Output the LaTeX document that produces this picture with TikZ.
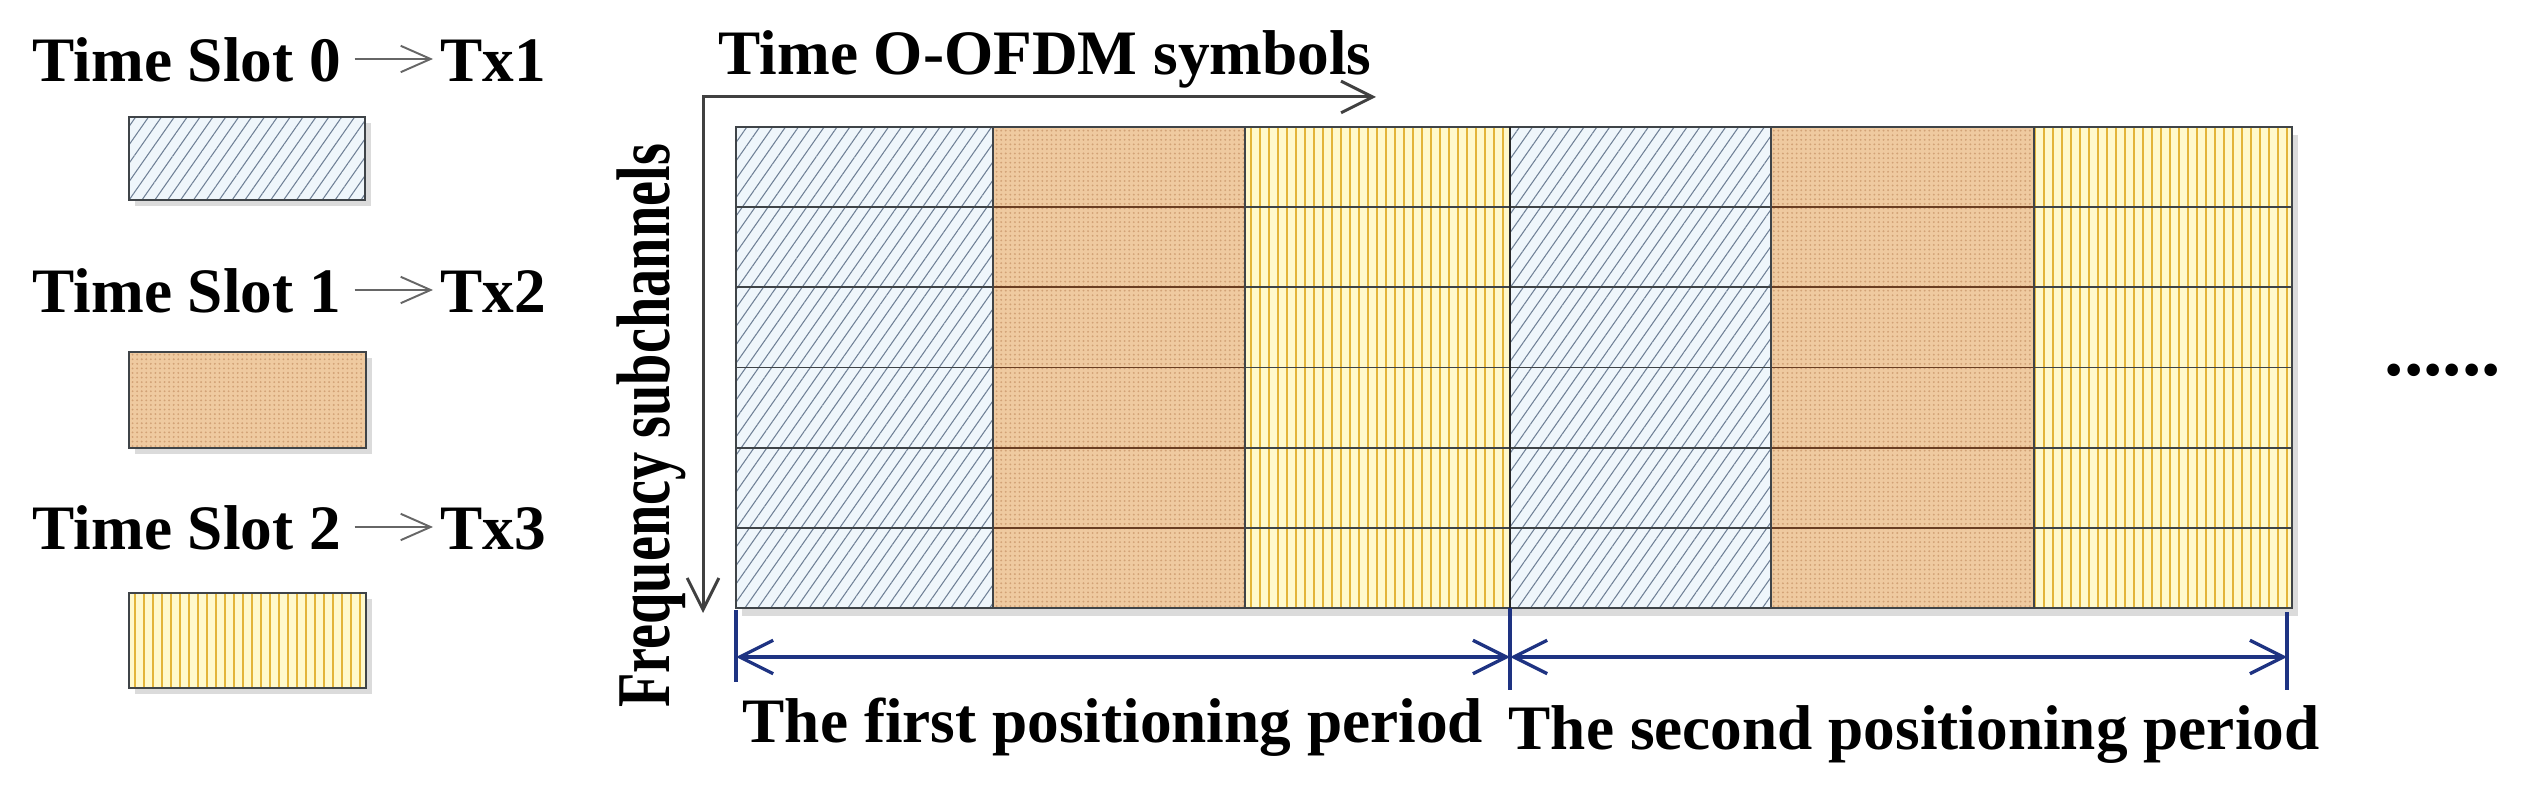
\documentclass[tikz,border=0pt]{standalone}
\usepackage{fontspec}
\setmainfont{Liberation Serif}
\usetikzlibrary{arrows.meta,patterns.meta,calc}
\definecolor{blueF}{HTML}{EFF6FB}
\definecolor{blueL}{HTML}{6F8096}
\definecolor{tanF}{HTML}{EFCAA0}
\definecolor{tanD}{HTML}{D2A276}
\definecolor{yelF}{HTML}{FFF9CC}
\definecolor{yelL}{HTML}{E3B53A}
\definecolor{navy}{HTML}{1E3382}
\definecolor{gridc}{HTML}{3F4448}
\definecolor{tanline}{HTML}{6A3E22}
\tikzset{
 lbl/.style={font=\fontsize{18}{20}\selectfont\bfseries, inner sep=0pt, anchor=base west},
 bluecell/.style={preaction={fill=blueF}, pattern={Lines[angle=55,distance=3.0pt,line width=0.3pt]}, pattern color=blueL},
 tancell/.style={preaction={fill=tanF}, pattern={Dots[radius=0.3pt,distance=1.3pt]}, pattern color=tanD},
 yelcell/.style={preaction={fill=yelF}, pattern={Lines[angle=90,distance=2.56pt,line width=0.55pt]}, pattern color=yelL},
 shadowbox/.style={fill=black!14},
 cellline/.style={draw=gridc, line width=0.55pt},
 slotarrow/.style={draw=black!60, line width=0.55pt, -{Straight Barb[length=8.5pt,width=7.5pt]}},
 axisarrow/.style={draw=black!75, line width=0.85pt, {Straight Barb[length=9pt,width=9pt]}-{Straight Barb[length=9pt,width=9pt]}},
 dimarrow/.style={draw=navy, line width=0.95pt, {Straight Barb[length=9.5pt,width=9.5pt]}-{Straight Barb[length=9.5pt,width=9.5pt]}},
 dimtick/.style={draw=navy, line width=0.95pt},
}
\begin{document}
\begin{tikzpicture}[x=0.01cm,y=-0.01cm]
\useasboundingbox (0,0) rectangle (2525,789);
% legend
\node[lbl] (ts0) at (32,82) {Time Slot 0};
\node[lbl] (tx0) at (440,82) {Tx1};
\draw[slotarrow] ($(ts0.base east)+(13,-23)$) -- ($(tx0.base west)+(-7,-23)$);
\path[shadowbox] (135,123) rectangle (371,206);
\path[bluecell,cellline] (129,117) rectangle (365,200);

\node[lbl] (ts1) at (32,313) {Time Slot 1};
\node[lbl] (tx1) at (440,313) {Tx2};
\draw[slotarrow] ($(ts1.base east)+(13,-23)$) -- ($(tx1.base west)+(-7,-23)$);
\path[shadowbox] (135,358) rectangle (372,454);
\path[tancell,cellline] (129,352) rectangle (366,448);

\node[lbl] (ts2) at (32,550) {Time Slot 2};
\node[lbl] (tx2) at (440,550) {Tx3};
\draw[slotarrow] ($(ts2.base east)+(13,-23)$) -- ($(tx2.base west)+(-7,-23)$);
\path[shadowbox] (135,599) rectangle (372,694);
\path[yelcell,cellline] (129,593) rectangle (366,688);

% grid
\path[shadowbox] (742,135) rectangle (2298,616);
\foreach \xa/\xb/\sty/\lc in {736/993/bluecell/gridc, 993/1245/tancell/tanline, 1245/1510/yelcell/gridc, 1510/1771/bluecell/gridc, 1771/2034/tancell/tanline, 2034/2292/yelcell/gridc} {
  \path[\sty] (\xa,127) rectangle (\xb,608);
  \foreach \r in {1,...,5} \draw[draw=\lc, line width=0.55pt] (\xa,127+80.17*\r) -- (\xb,127+80.17*\r);
}
\foreach \x in {993,1245,1771,2034} \draw[cellline] (\x,127) -- (\x,608);
\draw[cellline] (736,127) rectangle (2292,608);
\draw[draw=black!85, line width=0.6pt] (1510,127) -- (1510,608);

% axes
\coordinate (origin) at (703,97);
\coordinate (tend) at (1376,97);
\coordinate (fend) at (703,613);
\draw[axisarrow] (fend) -- (origin) -- (tend);
\node[lbl] (tlabel) at (718,75) {Time O-OFDM symbols};
\node[lbl, rotate=90, anchor=base] (flabel) at (669,426) {\scalebox{0.89}[1.2]{Frequency subchannels}};

% dimension
\coordinate (t0a) at (736,610); \coordinate (t0b) at (736,682);
\coordinate (t1a) at (1510,608); \coordinate (t1b) at (1510,690);
\coordinate (t2a) at (2287,612); \coordinate (t2b) at (2287,690);
\draw[dimtick] (t0a) -- (t0b);
\draw[dimtick] (t1a) -- (t1b);
\draw[dimtick] (t2a) -- (t2b);
\coordinate (d0) at (736,657);
\coordinate (d1) at (1510,657);
\coordinate (d2) at (2287,657);
\draw[dimarrow] (d0) -- (d1);
\draw[dimarrow] (d1) -- (d2);
\node[lbl] (p1) at (742,743) {The first positioning period};
\node[lbl] (p2) at (1508,750) {The second positioning period};

\node[lbl, font=\fontsize{22}{24}\selectfont\bfseries] (dots) at (2384,376) {......};
\end{tikzpicture}
\end{document}
